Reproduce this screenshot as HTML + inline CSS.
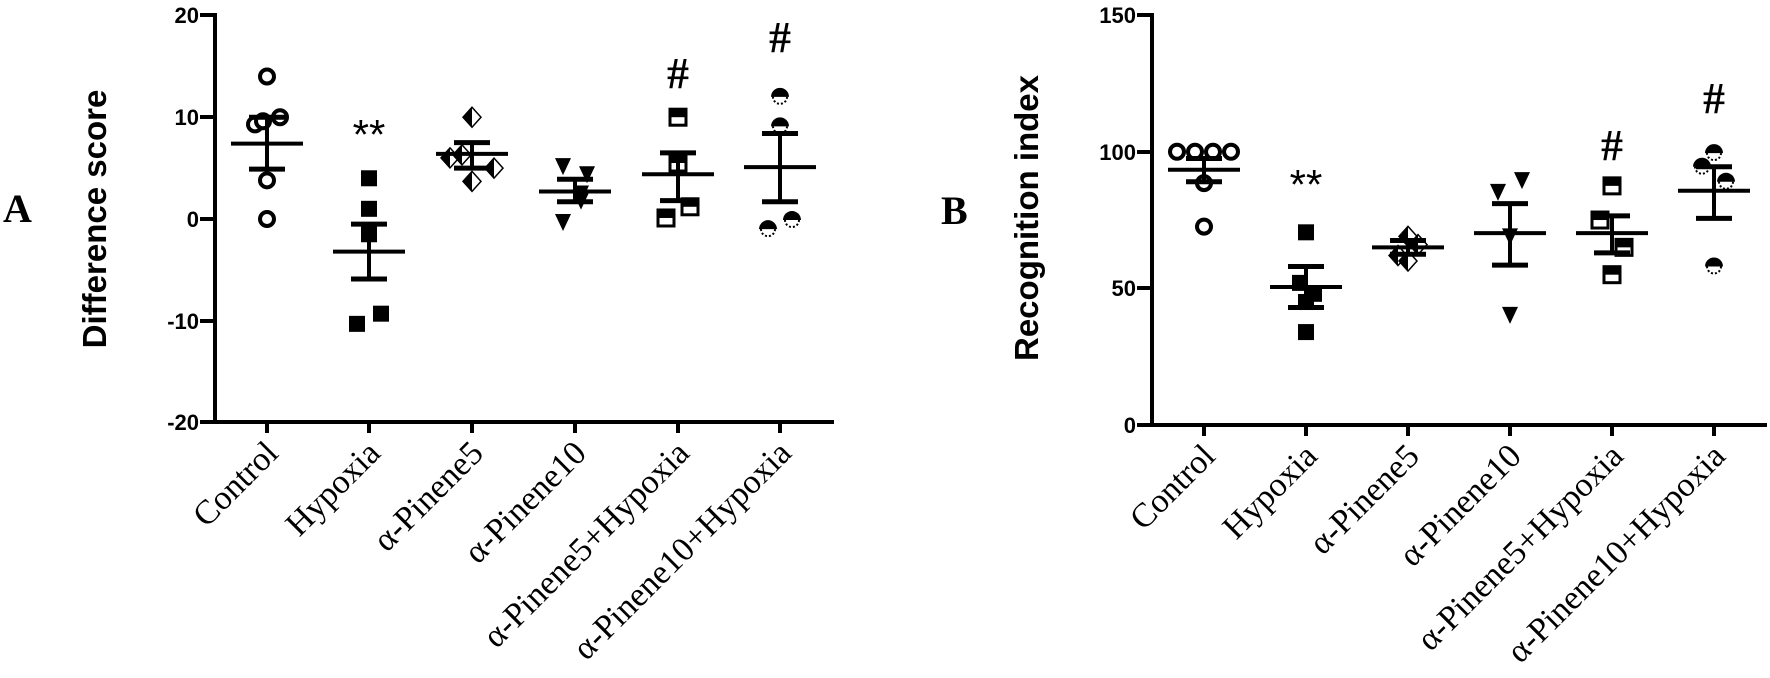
<!DOCTYPE html>
<html><head><meta charset="utf-8"><style>
html,body{margin:0;padding:0;background:#fff;}
svg{display:block;}
.tl{font-family:"Liberation Sans",Arial,sans-serif;font-weight:bold;font-size:22px;text-anchor:end;}
.cl{font-family:"Liberation Serif","Times New Roman",serif;font-size:34px;text-anchor:end;}
.yl{font-family:"Liberation Sans",Arial,sans-serif;font-weight:bold;font-size:33px;text-anchor:middle;}
.pl{font-family:"Liberation Serif","Times New Roman",serif;font-weight:bold;font-size:40px;}
.hs{font-family:"Liberation Serif","Times New Roman",serif;font-weight:bold;font-size:44px;text-anchor:middle;}
.as{font-family:"Liberation Sans",Arial,sans-serif;font-size:42px;text-anchor:middle;}
</style></head><body>
<svg id="s" width="1770" height="678" viewBox="0 0 1770 678" xmlns="http://www.w3.org/2000/svg">
<g stroke="#000" stroke-width="4" fill="none">
<line x1="215" y1="13" x2="215" y2="424"/>
<line x1="213" y1="422" x2="834" y2="422"/>
<line x1="200" y1="15" x2="215" y2="15"/><line x1="200" y1="117" x2="215" y2="117"/>
<line x1="200" y1="219" x2="215" y2="219"/><line x1="200" y1="321" x2="215" y2="321"/>
<line x1="200" y1="422" x2="215" y2="422"/>
<line x1="267" y1="422" x2="267" y2="433"/><line x1="369" y1="422" x2="369" y2="433"/>
<line x1="472" y1="422" x2="472" y2="433"/><line x1="575" y1="422" x2="575" y2="433"/>
<line x1="678" y1="422" x2="678" y2="433"/><line x1="780" y1="422" x2="780" y2="433"/>
<line x1="1152" y1="13" x2="1152" y2="427"/>
<line x1="1150" y1="425" x2="1767" y2="425"/>
<line x1="1137" y1="15" x2="1152" y2="15"/><line x1="1137" y1="152" x2="1152" y2="152"/>
<line x1="1137" y1="288" x2="1152" y2="288"/><line x1="1137" y1="425" x2="1152" y2="425"/>
<line x1="1204" y1="425" x2="1204" y2="436"/><line x1="1306" y1="425" x2="1306" y2="436"/>
<line x1="1408" y1="425" x2="1408" y2="436"/><line x1="1510" y1="425" x2="1510" y2="436"/>
<line x1="1612" y1="425" x2="1612" y2="436"/><line x1="1714" y1="425" x2="1714" y2="436"/>
</g>
<text class="tl" x="199" y="23">20</text><text class="tl" x="199" y="125">10</text>
<text class="tl" x="199" y="227">0</text><text class="tl" x="199" y="329">-10</text>
<text class="tl" x="199" y="430">-20</text>
<text class="tl" x="1136" y="23">150</text><text class="tl" x="1136" y="160">100</text>
<text class="tl" x="1136" y="296">50</text><text class="tl" x="1136" y="433">0</text>
<text class="yl" transform="translate(106,219) rotate(-90)">Difference score</text>
<text class="yl" transform="translate(1038,218) rotate(-90)">Recognition index</text>
<text class="pl" x="3" y="222">A</text>
<text class="pl" x="941" y="224">B</text>
<g id="labs">
<text class="cl" transform="translate(280,455) rotate(-45)">Control</text>
<text class="cl" transform="translate(382,455) rotate(-45)">Hypoxia</text>
<text class="cl" transform="translate(485,455) rotate(-45)">α-Pinene5</text>
<text class="cl" transform="translate(588,455) rotate(-45)">α-Pinene10</text>
<text class="cl" transform="translate(691,455) rotate(-45)">α-Pinene5+Hypoxia</text>
<text class="cl" transform="translate(793,455) rotate(-45)">α-Pinene10+Hypoxia</text>
<text class="cl" transform="translate(1217,458) rotate(-45)">Control</text>
<text class="cl" transform="translate(1319,458) rotate(-45)">Hypoxia</text>
<text class="cl" transform="translate(1421,458) rotate(-45)">α-Pinene5</text>
<text class="cl" transform="translate(1523,458) rotate(-45)">α-Pinene10</text>
<text class="cl" transform="translate(1625,458) rotate(-45)">α-Pinene5+Hypoxia</text>
<text class="cl" transform="translate(1727,458) rotate(-45)">α-Pinene10+Hypoxia</text>
</g>
<text class="as" x="369" y="149">**</text>
<text class="hs" x="678" y="88">#</text>
<text class="hs" x="780" y="52">#</text>
<text class="as" x="1306" y="199">**</text>
<text class="hs" x="1612" y="160">#</text>
<text class="hs" x="1714" y="113">#</text>
<g id="d"></g>
</svg>
<script>
var NS="http://www.w3.org/2000/svg",g=document.getElementById("d");
function el(t,a){var e=document.createElementNS(NS,t);for(var k in a)e.setAttribute(k,a[k]);g.appendChild(e);return e;}
function mk(type,x,y){
 if(type=="c"){el("circle",{cx:x,cy:y,r:7,fill:"#fff",stroke:"#000","stroke-width":4});}
 else if(type=="s"){el("rect",{x:x-8,y:y-8,width:16,height:16,fill:"#000"});}
 else if(type=="d"){el("polygon",{points:(x)+","+(y-10)+" "+(x+9)+","+y+" "+x+","+(y+10)+" "+(x-9)+","+y,fill:"#fff",stroke:"#000","stroke-width":1.5});
   el("polygon",{points:x+","+(y-10)+" "+x+","+(y+10)+" "+(x-9)+","+y,fill:"#000"});}
 else if(type=="t"){el("polygon",{points:(x-8)+","+(y-8)+" "+(x+8)+","+(y-8)+" "+x+","+(y+9),fill:"#000"});}
 else if(type=="h"){el("rect",{x:x-8,y:y-8,width:16,height:16,fill:"#fff",stroke:"#000","stroke-width":3});
   el("rect",{x:x-8,y:y-8,width:16,height:8,fill:"#000"});}
 else if(type=="o"){el("circle",{cx:x,cy:y,r:7,fill:"#fff",stroke:"#000","stroke-width":2,"stroke-dasharray":"2 2"});
   el("path",{d:"M"+(x-9)+","+y+" A9,9 0 0 1 "+(x+9)+","+y+" Z",fill:"#000"});}
}
function grp(type,x,yf,pts,mean,hi,lo){
 pts.forEach(function(p){mk(type,x+p[1],yf(p[0]));});
 el("line",{x1:x,y1:yf(hi),x2:x,y2:yf(lo),stroke:"#000","stroke-width":4});
 el("line",{x1:x-18,y1:yf(hi),x2:x+18,y2:yf(hi),stroke:"#000","stroke-width":5});
 el("line",{x1:x-18,y1:yf(lo),x2:x+18,y2:yf(lo),stroke:"#000","stroke-width":5});
 el("line",{x1:x-36,y1:yf(mean),x2:x+36,y2:yf(mean),stroke:"#000","stroke-width":4});
}
var A=function(v){return 219-v*10.18;}, B=function(v){return 425-v*2.733;};
grp("c",267,A,[[14,0],[10,13],[9.3,-12],[9.6,-4],[3.8,0],[0,0]],7.4,10,4.9);
grp("s",369,A,[[4,0],[1,0],[-1.5,0],[-9.3,12],[-10.3,-12]],-3.2,-0.5,-5.9);
grp("d",472,A,[[10,0],[6,-22],[5,22],[3.7,0],[6.3,-10]],6.4,7.5,5.0);
grp("t",575,A,[[5.2,-12],[4.4,12],[2.5,6],[1.8,6],[-0.3,-12]],2.7,3.9,1.7);
grp("h",678,A,[[10,0],[5.5,0],[1.2,12],[0.1,-12]],4.4,6.5,1.8);
grp("o",780,A,[[12,0],[9.1,0],[-0.1,12],[-1,-12]],5.1,8.4,1.7);
grp("c",1204,B,[[100,-27],[100,-9],[100,9],[100,27],[88.5,0],[72.6,0]],93.4,97.5,89);
grp("s",1306,B,[[70.5,0],[52,-6],[48,8],[45,0],[34,0]],50.5,58,43);
grp("d",1408,B,[[69,0],[66,10],[62,-10],[60,0]],65,67.5,62.5);
grp("t",1510,B,[[89.6,12],[85.3,-12],[69,0],[40.3,0]],70.2,81,58.5);
grp("h",1612,B,[[87.5,0],[75,-12],[65,12],[55,0]],70.2,76.5,63);
grp("o",1714,B,[[99.5,0],[94.5,-12],[89,12],[58,0]],85.7,94.5,75.6);
</script>
</body></html>
